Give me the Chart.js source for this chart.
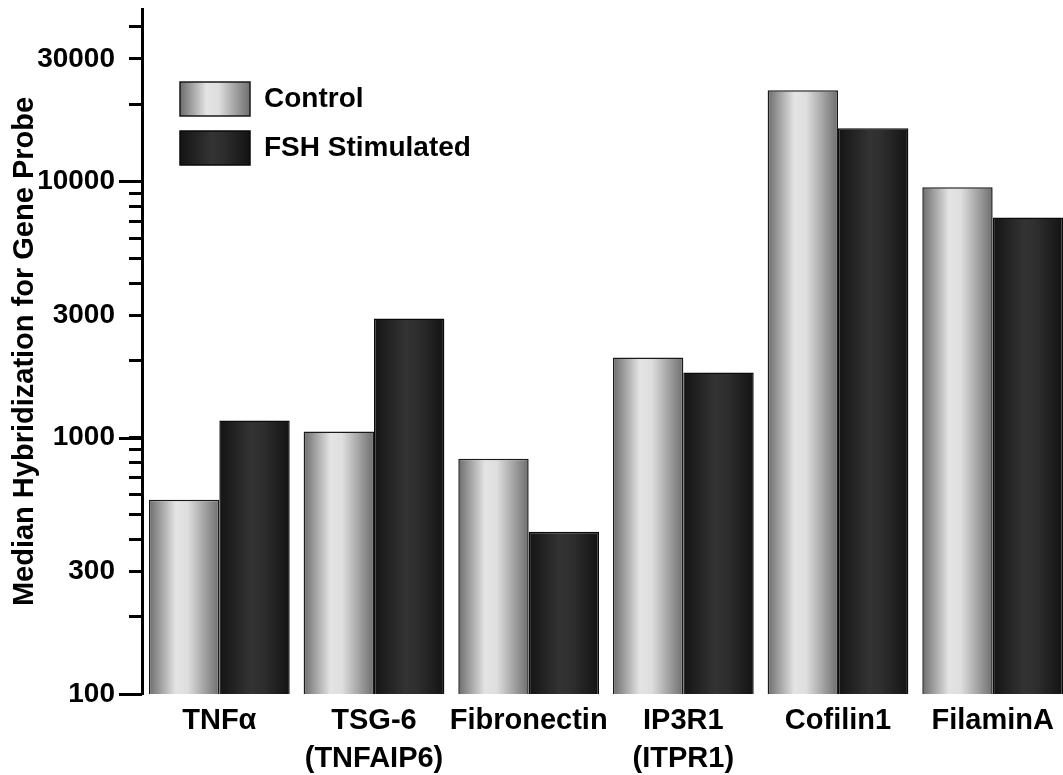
<!DOCTYPE html>
<html>
<head>
<meta charset="utf-8">
<title>Median Hybridization for Gene Probe</title>
<script src="https://cdn.jsdelivr.net/npm/chart.js@4.4.0/dist/chart.umd.min.js"></script>
<style>
    html, body { margin: 0; padding: 0; background: #fff; overflow: hidden; }
    .chart-wrap { width: 1070px; height: 786px; position: relative; }
</style>
</head>
<body>
<div class="chart-wrap"><canvas id="geneChart"></canvas></div>
<script>
// data (log axis)
const genes = ['TNFα', ['TSG-6', '(TNFAIP6)'], 'Fibronectin', ['IP3R1', '(ITPR1)'], 'Cofilin1', 'FilaminA'];
const controlValues = [572, 1056, 828, 2053, 22660, 9480];
const fshValues = [1166, 2916, 429, 1794, 16100, 7230];
const seriesNames = ['Control', 'FSH Stimulated'];

const yTickValues = [100, 200, 300, 400, 500, 600, 700, 800, 900,
    1000, 2000, 3000, 4000, 5000, 6000, 7000, 8000, 9000,
    10000, 20000, 30000, 40000];
const yTickLabels = [100, 300, 1000, 3000, 10000, 30000];
const yMajorTicks = [100, 1000, 10000];

const FONT = "'Liberation Sans', Arial, Helvetica, sans-serif";

// cylinder-like shading for each series
const shades = [
    [[0, '#6c6c6c'], [0.38, '#e4e4e4'], [0.55, '#dedede'], [1, '#6e6e6e']],
    [[0, '#141414'], [0.45, '#333333'], [0.62, '#2e2e2e'], [1, '#131313']]
];

function makeShade(ctx, x0, x1, stops) {
    const g = ctx.createLinearGradient(x0, 0, x1, 0);
    stops.forEach(s => g.addColorStop(s[0], s[1]));
    return g;
}

const legendPad = 15;

const shadePlugin = {
    id: 'shadePlugin',
    afterLayout(chart) {
        // park the legend inside the plot, top-left
        const lg = chart.legend;
        lg.left = chart.chartArea.left + 23;
        lg.top = chart.chartArea.top + 58;
    },
    beforeDraw(chart) {
        const ctx = chart.ctx;
        const lg = chart.legend;
        const bw = lg.options.labels.boxWidth;
        const bx = lg.left + legendPad;
        lg.legendItems.forEach((item, i) => {
            item.fillStyle = makeShade(ctx, bx, bx + bw, shades[i]);
        });
    },
    beforeDatasetsDraw(chart) {
        const ctx = chart.ctx;
        chart.data.datasets.forEach((ds, di) => {
            chart.getDatasetMeta(di).data.forEach(el => {
                const half = el.width / 2;
                el.options = Object.assign({}, el.options, {
                    backgroundColor: makeShade(ctx, el.x - half, el.x + half, shades[di])
                });
            });
        });
    },
    afterDraw(chart) {
        // longer marks at the decades
        const ys = chart.scales.y;
        const ctx = chart.ctx;
        ctx.save();
        ctx.strokeStyle = '#000';
        ctx.lineWidth = 3;
        yMajorTicks.forEach(v => {
            const py = Math.round(ys.getPixelForValue(v)) + 0.5;
            ctx.beginPath();
            ctx.moveTo(ys.right - 23, py);
            ctx.lineTo(ys.right, py);
            ctx.stroke();
        });
        ctx.restore();
    }
};

new Chart(document.getElementById('geneChart').getContext('2d'), {
    type: 'bar',
    data: {
        labels: genes,
        datasets: [{
            label: seriesNames[0],
            data: controlValues,
            backgroundColor: '#bdbdbd',
            borderColor: '#1a1a1a',
            borderWidth: 1.5,
            barPercentage: 1,
            categoryPercentage: 0.91
        }, {
            label: seriesNames[1],
            data: fshValues,
            backgroundColor: '#262626',
            borderColor: '#0a0a0a',
            borderWidth: 1.5,
            barPercentage: 1,
            categoryPercentage: 0.91
        }]
    },
    options: {
        responsive: true,
        maintainAspectRatio: false,
        animation: false,
        layout: { padding: 0 },
        plugins: {
            tooltip: { enabled: false },
            legend: {
                position: 'chartArea',
                align: 'start',
                labels: {
                    boxWidth: 70,
                    boxHeight: 34,
                    padding: legendPad,
                    color: '#000',
                    font: { family: FONT, size: 28, weight: 'bold' }
                }
            }
        },
        scales: {
            x: {
                grid: { display: false, drawTicks: false },
                border: { display: false },
                ticks: {
                    color: '#000',
                    padding: 8,
                    maxRotation: 0,
                    autoSkip: false,
                    font: { family: FONT, size: 29, weight: 'bold', lineHeight: '38px' }
                }
            },
            y: {
                type: 'logarithmic',
                min: 100,
                max: 47000,
                afterBuildTicks: function(axis) {
                    axis.ticks = yTickValues.map(v => ({ value: v }));
                },
                afterFit: function(axis) {
                    axis.width = 142;
                    axis.paddingTop = 9;
                    axis.paddingBottom = 0;
                },
                ticks: {
                    color: '#000',
                    padding: 14,
                    autoSkip: false,
                    font: { family: FONT, size: 28, weight: 'bold' },
                    callback: function(value) {
                        return yTickLabels.includes(value) ? String(value) : '';
                    }
                },
                grid: {
                    drawOnChartArea: false,
                    tickLength: 13,
                    tickWidth: 3,
                    tickColor: '#000'
                },
                border: { display: true, color: '#000', width: 3 },
                title: {
                    display: true,
                    text: 'Median Hybridization for Gene Probe',
                    color: '#000',
                    padding: { top: 10, bottom: 0 },
                    font: { family: FONT, size: 29, weight: 'bold', lineHeight: 1 }
                }
            }
        }
    },
    plugins: [shadePlugin]
});
</script>
</body>
</html>
